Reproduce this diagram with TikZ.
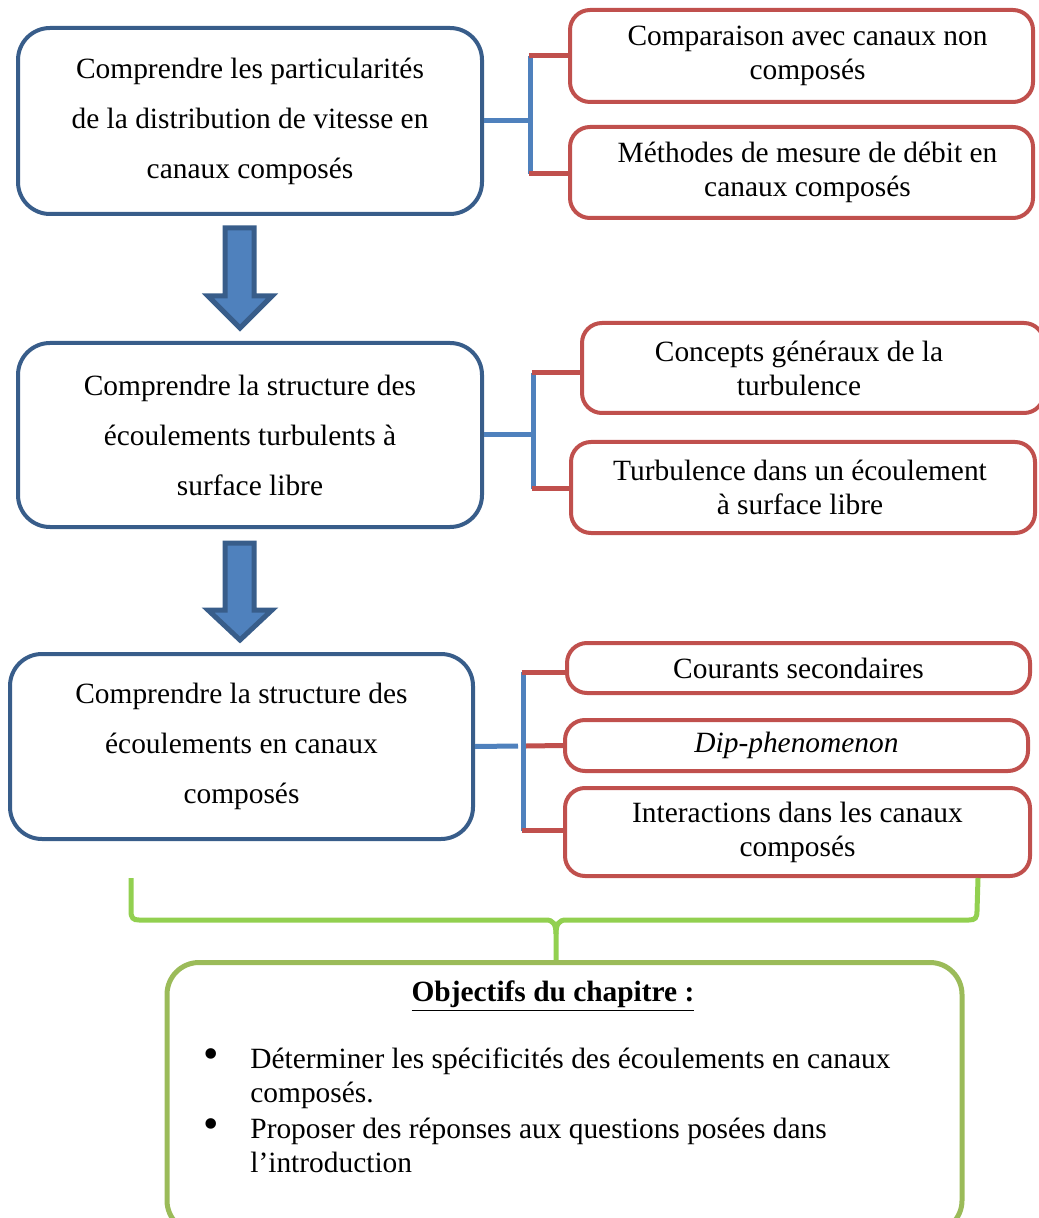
\documentclass[tikz,border=0pt]{standalone}
\usepackage{fontspec}
\setmainfont{Liberation Serif}
\definecolor{dblue}{HTML}{385D8A}
\definecolor{mblue}{HTML}{4F81BD}
\definecolor{dred}{HTML}{C0504D}
\definecolor{lgreen}{HTML}{92D050}
\definecolor{ogreen}{HTML}{9BBB59}
\begin{document}
\begin{tikzpicture}[x=0.5pt,y=-0.5pt,
  bbox/.style={draw=dblue,line width=2pt,rounded corners=16pt,fill=white,align=center,
    font=\fontsize{14.7}{25}\selectfont,minimum width=232pt,minimum height=93pt,inner sep=0pt},
  rbox/.style={draw=dred,line width=2pt,rounded corners=10pt,align=center,
    font=\fontsize{14.7}{17}\selectfont,minimum width=231.5pt,inner sep=0pt},
  rtext/.style={align=center,font=\fontsize{14.7}{17}\selectfont,inner sep=0pt},
  bl/.style={draw=mblue,line width=2.5pt},
  rl/.style={draw=dred,line width=2.5pt},
  barrow/.style={draw=dblue,fill=mblue,line width=2.5pt,line join=miter},
  gline/.style={draw=lgreen,line width=2.5pt},
  gbox/.style={draw=ogreen,line width=2.5pt,rounded corners=16pt,minimum width=397.5pt,minimum height=135pt,inner sep=0pt},
  gtext/.style={font=\fontsize{14.7}{17}\selectfont,inner sep=0pt,align=left},
  ]
\useasboundingbox (0,0) rectangle (1038,1218);

% ---------- row 1
\node[bbox] (b1) at (250,121) {Comprendre les particularités\\de la distribution de vitesse en\\canaux composés};
\node[rbox,minimum height=46pt] (r1) at (801.5,56) {};
\node[rtext] at ([xshift=3pt]r1.center) {Comparaison avec canaux non\\composés};
\node[rbox,minimum height=45.5pt] (r2) at (801.5,172.5) {};
\node[rtext] at ([xshift=3pt]r2.center) {Méthodes de mesure de débit en\\canaux composés};
\coordinate (j1) at (530,121);
\draw[bl] (b1.east) -- (j1);
\draw[bl] (530,56) -- (530,174);
\draw[rl] (528.8,56) -- (r1.west);
\draw[rl] (528.8,174) -- (r2.west|-0,174);

% ---------- arrow 1
\draw[barrow] (225,228) -- (254,228) -- (254,296) -- (272,296) -- (240,328) -- (208,296) -- (225,296) -- cycle;

% ---------- row 2
\node[bbox,minimum height=92pt] (b2) at (250,435) {Comprendre la structure des\\écoulements turbulents à\\surface libre};
\node[rbox,minimum width=231pt,minimum height=45pt] (r3) at (813,368) {};
\node[rtext] at ([xshift=-7pt]r3.center) {Concepts généraux de la\\turbulence};
\node[rbox,minimum width=232pt,minimum height=45.5pt] (r4) at (803,487.5) {};
\node[rtext] at ([xshift=-1.5pt]r4.center) {Turbulence dans un écoulement\\à surface libre};
\coordinate (j2) at (533,435);
\draw[bl] (b2.east) -- (j2);
\draw[bl] (533,373) -- (533,489);
\draw[rl] (531.8,373) -- (r3.west|-0,373);
\draw[rl] (531.8,488) -- (r4.west|-0,488);

% ---------- arrow 2
\draw[barrow] (225,543) -- (254,543) -- (254,610) -- (272,610) -- (240,640) -- (208,610) -- (225,610) -- cycle;

% ---------- row 3
\node[bbox,minimum width=231.5pt,minimum height=92.5pt] (b3) at (241.5,746.5) {Comprendre la structure des\\écoulements en canaux\\composés};
\node[rbox,minimum height=25pt] (r5) at (798.5,668) {Courants secondaires};
\node[rbox,minimum height=25.5pt] (r6) at (796.5,745.5) {\itshape Dip-phenomenon};
\node[rbox,minimum width=232.5pt,minimum height=44pt] (r7) at (797.5,832) {Interactions dans les canaux\\composés};
\coordinate (j3) at (518,746);
\draw[bl] (b3.east) -- (j3);
\draw[bl] (523,672) -- (523,831);
\draw[rl] (521.8,672) -- (r5.west|-0,672);
\draw[rl] (526,746) -- (r6.west);
\draw[rl] (521.8,830) -- (563,830);

% ---------- green brace and objectives
\node[gbox,anchor=north] (g) at (564.5,960) {};
\coordinate (gt) at (556,960);
\draw[gline] (131,878) -- (131,911) .. controls (131,918) and (133,920) .. (139,920) -- (546,920)
  .. controls (553,920) and (556,924) .. (556,934) -- (gt);
\draw[gline] (978,878) -- (977,911) .. controls (977,918) and (975,920) .. (969,920) -- (566,920)
  .. controls (559,920) and (556,924) .. (556,934);
\node[gtext,anchor=base] (gtitle) at (553,1001) {\underline{\textbf{Objectifs du chapitre :}}};
\node[gtext,anchor=base] (bul1) at (211,1068) {\fontsize{22}{17}\selectfont •};
\node[gtext,anchor=base west] (t1) at (250,1068) {Déterminer les spécificités des écoulements en canaux};
\node[gtext,anchor=base west] (t1b) at (250,1102) {composés.};
\node[gtext,anchor=base] (bul2) at (211,1138) {\fontsize{22}{17}\selectfont •};
\node[gtext,anchor=base west] (t2) at (250,1138) {Proposer des réponses aux questions posées dans};
\node[gtext,anchor=base west] (t2b) at (250,1172) {l’introduction};
\end{tikzpicture}
\end{document}
